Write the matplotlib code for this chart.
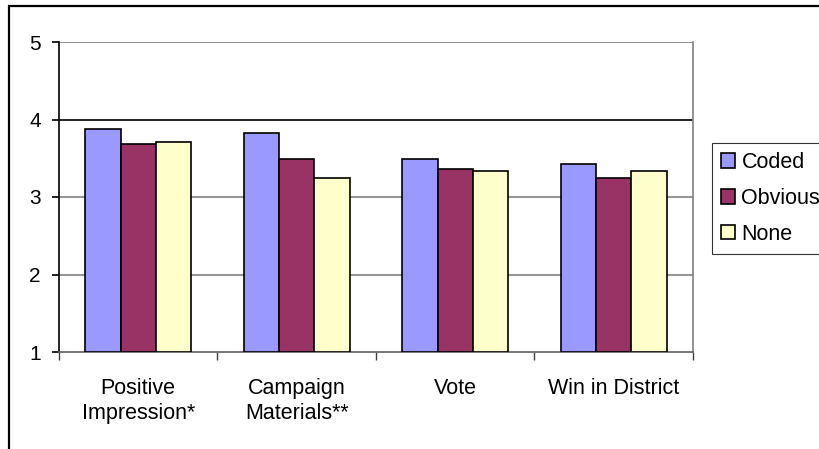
import numpy as np
import matplotlib
matplotlib.use('Agg')
from matplotlib import pyplot as plt
from matplotlib.patches import Rectangle

categories = ['Positive\nImpression*', 'Campaign\nMaterials**', 'Vote', 'Win in District']
series_names = ['Coded', 'Obvious', 'None']
coded = [3.88, 3.82, 3.49, 3.43]
obvious = [3.69, 3.49, 3.36, 3.25]
none = [3.71, 3.25, 3.34, 3.34]
colors = ['#9999ff', '#993366', '#ffffcc']
yticks = [1, 2, 3, 4, 5]

plt.rcParams['font.family'] = ['Liberation Sans', 'DejaVu Sans']

fig = plt.figure(figsize=(8.2, 4.49), dpi=100)
ax = fig.add_axes([59 / 820, 1 - 352 / 449, 634 / 820, 310 / 449])

# outer chart frame, left and top edges only show
fig.patches.append(Rectangle((9 / 820, -0.2), 1.2, 1 - 6 / 449 + 0.2,
                             transform=fig.transFigure, fill=False,
                             edgecolor='black', linewidth=1.6))

x = np.arange(len(categories))
w = 1 / 4.5
for i, (vals, name) in enumerate(zip([coded, obvious, none], series_names)):
    ax.bar(x + (i - 1) * w, np.array(vals) - 1, bottom=1, width=w,
           color=colors[i], edgecolor='black', linewidth=1.2, label=name, zorder=3)

ax.set_xlim(-0.5, len(categories) - 0.5)
ax.set_ylim(1, 5)
ax.set_yticks(yticks)
ax.set_yticklabels([str(t) for t in yticks], fontsize=15)

for t in yticks[1:]:
    ax.axhline(t, color='black' if t == 4 else '#808080', linewidth=1.2, zorder=1)

ax.set_xticks(np.arange(len(categories) + 1) - 0.5, minor=True)
ax.set_xticks(x)
ax.set_xticklabels(categories, fontsize=15.5, linespacing=1.25)
ax.tick_params(axis='x', which='major', length=0, pad=19)
ax.tick_params(axis='x', which='minor', length=6, width=1, color='#404040', direction='out')
ax.tick_params(axis='y', length=5, width=1.2, direction='out', pad=8)

ax.spines['top'].set_visible(False)
ax.spines['left'].set_color('black')
ax.spines['left'].set_linewidth(1.2)
ax.spines['right'].set_color('#808080')
ax.spines['right'].set_linewidth(1.2)
ax.spines['bottom'].set_color('#606060')
ax.spines['bottom'].set_linewidth(1.2)

leg = fig.legend(loc='upper left', bbox_to_anchor=(712 / 820, 1 - 143 / 449),
                 fontsize=15.5, frameon=True, fancybox=False, edgecolor='black',
                 handlelength=0.65, handleheight=0.65, handletextpad=0.3,
                 labelspacing=0.69, borderpad=0.42, borderaxespad=0)
leg.get_frame().set_linewidth(0.8)

fig.savefig('out.png', dpi=100)
